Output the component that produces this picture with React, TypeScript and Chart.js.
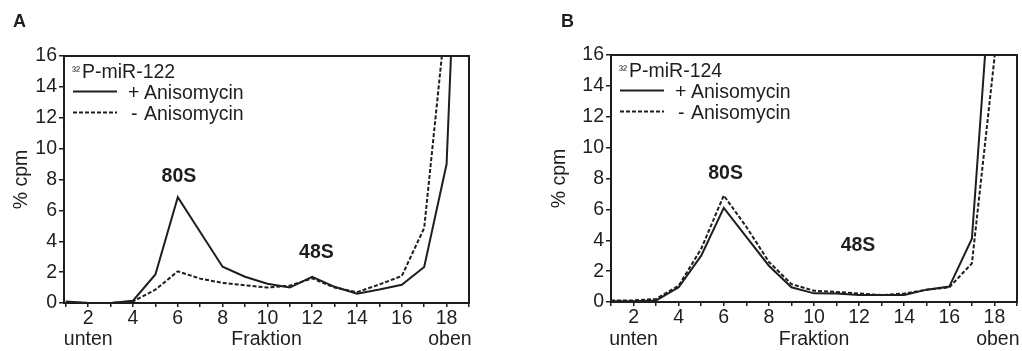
import React, { useEffect, useRef } from 'react';
import { Chart, registerables } from 'chart.js';

Chart.register(...registerables);

// ---------- data ----------
const fractions = [1, 2, 3, 4, 5, 6, 7, 8, 9, 10, 11, 12, 13, 14, 15, 16, 17, 18, 19];
const xTickValues = [1, 2, 3, 4, 5, 6, 7, 8, 9, 10, 11, 12, 13, 14, 15, 16, 17, 18, 19];
const yTickValues = [0, 2, 4, 6, 8, 10, 12, 14, 16];

const miR122Plus = [0.1, 0, 0, 0.15, 1.85, 6.85, 4.6, 2.35, 1.7, 1.25, 1.0, 1.7, 1.05, 0.6, 0.87, 1.18, 2.33, 9.0, 45];
const miR122Minus = [0.05, 0, 0, 0.1, 0.86, 2.05, 1.58, 1.3, 1.15, 1.0, 1.12, 1.6, 1.0, 0.7, 1.2, 1.75, 4.86, 19, 40];
const miR124Plus = [0.05, 0.05, 0.1, 0.95, 3.0, 6.1, 4.22, 2.35, 0.95, 0.56, 0.55, 0.45, 0.45, 0.45, 0.8, 1.0, 4.1, 24.5, 50];
const miR124Minus = [0.1, 0.1, 0.2, 1.05, 3.45, 6.9, 4.87, 2.6, 1.16, 0.73, 0.65, 0.55, 0.45, 0.55, 0.8, 0.95, 2.5, 15.8, 40];

const seriesSigns = ['+', '-'];
const seriesName = 'Anisomycin';
const isotope = '³²';
const probes = ['P-miR-122', 'P-miR-124'];
const panelLetters = ['A', 'B'];
const peakNames = ['80S', '48S'];
const xTitle = 'Fraktion';
const yTitle = '% cpm';
const endLabels = ['unten', 'oben'];

// ---------- style / layout ----------
const FONT = '"Liberation Sans", Arial, Helvetica, sans-serif';
const INK = '#1e1e1e';
const W = 511;
const H = 351;
const TXT = 19.5;

const panelLayouts = [
  {
    xMin: 0.92, padTop: 56, padRight: 42, yWidth: 64, xHeight: 48, yTitlePad: 10,
    letterX: 13, peak80: [6.05, 7.86], peak48: [12.19, 2.91], obenX: 18.15,
  },
  {
    xMin: 1, padTop: 55, padRight: 5, yWidth: 100, xHeight: 49, yTitlePad: 36.6,
    letterX: 50, peak80: [6.08, 8.0], peak48: [11.95, 3.32], obenX: 18.15,
  },
];

const panelData = [
  { plus: miR122Plus, minus: miR122Minus },
  { plus: miR124Plus, minus: miR124Minus },
];

function makeDecor(idx: number) {
  const L = panelLayouts[idx];
  return {
    id: 'decor' + idx,
    afterDatasetsDraw(chart: any) {
      const { ctx, chartArea: a, scales } = chart;
      const x = scales.x;
      const y = scales.y;
      ctx.save();
      // frame
      ctx.strokeStyle = INK;
      ctx.lineWidth = 2;
      ctx.setLineDash([]);
      ctx.strokeRect(a.left, a.top, a.right - a.left, a.bottom - a.top);

      ctx.fillStyle = INK;
      // panel letter
      ctx.font = `bold 18px ${FONT}`;
      ctx.textAlign = 'left';
      ctx.textBaseline = 'alphabetic';
      ctx.fillText(panelLetters[idx], L.letterX, 27);

      // peak labels
      ctx.font = `bold 19.5px ${FONT}`;
      ctx.textAlign = 'center';
      ctx.fillText(peakNames[0], x.getPixelForValue(L.peak80[0]), y.getPixelForValue(L.peak80[1]));
      ctx.fillText(peakNames[1], x.getPixelForValue(L.peak48[0]), y.getPixelForValue(L.peak48[1]));

      // legend
      const lx = a.left;
      const ty = a.top;
      ctx.textAlign = 'left';
      ctx.font = `12px ${FONT}`;
      ctx.fillText(isotope, lx + 8, ty + 18.5);
      ctx.font = `${TXT}px ${FONT}`;
      ctx.fillText(probes[idx], lx + 18, ty + 22);

      ctx.lineWidth = 2;
      ctx.beginPath();
      ctx.moveTo(lx + 9, ty + 35.5);
      ctx.lineTo(lx + 53, ty + 35.5);
      ctx.stroke();
      ctx.setLineDash([4, 2]);
      ctx.beginPath();
      ctx.moveTo(lx + 9, ty + 56.5);
      ctx.lineTo(lx + 53, ty + 56.5);
      ctx.stroke();
      ctx.setLineDash([]);

      ctx.fillText(seriesSigns[0], lx + 64, ty + 43);
      ctx.fillText(seriesName, lx + 80, ty + 43);
      ctx.fillText(seriesSigns[1], lx + 67, ty + 63.5);
      ctx.fillText(seriesName, lx + 80, ty + 63.5);

      // unten / oben
      ctx.textAlign = 'center';
      ctx.textBaseline = 'middle';
      ctx.fillText(endLabels[0], x.getPixelForValue(2), 339.6);
      ctx.fillText(endLabels[1], x.getPixelForValue(L.obenX), 339.6);
      ctx.restore();
    },
  };
}

function Panel({ idx }: { idx: number }) {
  const ref = useRef<HTMLCanvasElement | null>(null);
  useEffect(() => {
    if (!ref.current) return;
    const L = panelLayouts[idx];
    const D = panelData[idx];
    const chart = new Chart(ref.current, {
      type: 'line',
      data: {
        datasets: [
          {
            label: seriesSigns[0] + ' ' + seriesName,
            data: fractions.map((f, i) => ({ x: f, y: D.plus[i] })),
            borderColor: INK,
            borderWidth: 2,
            pointRadius: 0,
            tension: 0,
            fill: false,
          },
          {
            label: seriesSigns[1] + ' ' + seriesName,
            data: fractions.map((f, i) => ({ x: f, y: D.minus[i] })),
            borderColor: INK,
            borderWidth: 2,
            borderDash: [4, 2],
            pointRadius: 0,
            tension: 0,
            fill: false,
          },
        ],
      },
      options: {
        animation: false,
        responsive: false,
        maintainAspectRatio: false,
        events: [],
        layout: { padding: { top: L.padTop, right: L.padRight, left: 0, bottom: 0 } },
        plugins: {
          legend: { display: false },
          tooltip: { enabled: false },
          title: { display: false },
        },
        scales: {
          x: {
            type: 'linear',
            min: L.xMin,
            max: 19,
            afterBuildTicks: (s: any) => {
              s.ticks = xTickValues.map((v) => ({ value: v }));
            },
            afterFit: (s: any) => {
              s.height = L.xHeight;
            },
            border: { display: false },
            grid: {
              display: true,
              drawOnChartArea: false,
              drawTicks: true,
              tickLength: 4,
              color: INK,
              lineWidth: 1.5,
            },
            ticks: {
              autoSkip: false,
              maxRotation: 0,
              padding: 0,
              color: INK,
              font: { size: TXT, family: FONT },
              callback: (v: any) => (Number(v) % 2 === 0 ? String(v) : ''),
            },
            title: {
              display: true,
              text: xTitle,
              color: INK,
              font: { size: TXT, family: FONT },
              padding: { top: 0, bottom: 0 },
            },
          },
          y: {
            type: 'linear',
            min: 0,
            max: 16,
            afterBuildTicks: (s: any) => {
              s.ticks = yTickValues.map((v) => ({ value: v }));
            },
            afterFit: (s: any) => {
              s.width = L.yWidth;
            },
            border: { display: false },
            grid: {
              display: true,
              drawOnChartArea: false,
              drawTicks: true,
              tickLength: 5,
              color: INK,
              lineWidth: 1.5,
            },
            ticks: {
              autoSkip: false,
              padding: 2,
              color: INK,
              font: { size: TXT, family: FONT },
              callback: (v: any) => String(v),
            },
            title: {
              display: true,
              text: yTitle,
              color: INK,
              font: { size: TXT, family: FONT },
              padding: { top: L.yTitlePad, bottom: 0 },
            },
          },
        },
      },
      plugins: [makeDecor(idx)],
    } as any);
    return () => chart.destroy();
  }, [idx]);
  return (
    <canvas
      ref={ref}
      width={W}
      height={H}
      style={{ position: 'absolute', left: idx * W, top: 0, width: W, height: H, display: 'block' }}
    />
  );
}

export default function App() {
  return (
    <div style={{ position: 'absolute', left: 0, top: 0, width: 1022, height: 351, background: '#fff', overflow: 'hidden' }}>
      <Panel idx={0} />
      <Panel idx={1} />
    </div>
  );
}
